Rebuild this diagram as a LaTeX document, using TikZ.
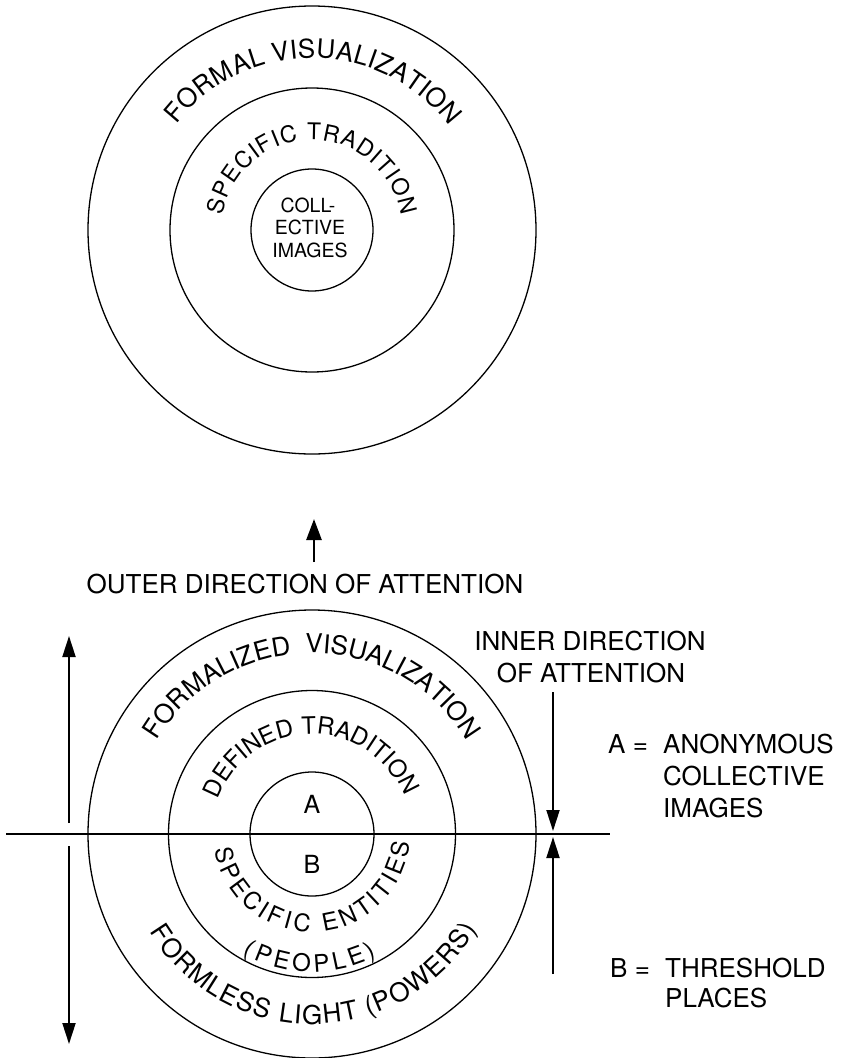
\documentclass[tikz,border=0pt]{standalone}
\usepackage{fontspec}
\setmainfont{TeX Gyre Heros}
\usetikzlibrary{arrows.meta,calc}
\tikzset{
  ring/.style={draw, circle, line width=1.3pt, inner sep=0pt, minimum size=#1},
  lbl/.style={font=\fontsize{26}{30}\selectfont, inner sep=0pt, anchor=base},
  small/.style={font=\fontsize{19.5}{22}\selectfont},
  arr/.style={-{Triangle[length=21pt,width=13pt]}, line width=2pt},
  hline/.style={line width=1.3pt},
  archar/.style={inner sep=0pt, anchor=base},
}
% #1 centre, #2 radius, #3 start angle, #4 end angle, #5 font size,
% #6 direction (-1 clockwise, letters outward; 1 anticlockwise, letters inward),
% #7 characters with widths (per 1000 em), #8 name prefix
\newcommand\arcchars[8]{%
  \gdef\ACtot{0}\gdef\ACn{0}%
  \foreach \c/\w in {#7}{%
    \pgfmathsetmacro\ACt{\ACtot+\w/1000*#5}\global\let\ACtot\ACt
    \xdef\ACn{\the\numexpr\ACn+1\relax}%
  }%
  \pgfmathsetmacro\ACL{(#2/180)*abs(#4-(#3))*pi}%
  \pgfmathsetmacro\ACg{(\ACL-\ACtot)/max(\ACn-1,1)}%
  \global\let\ACgap\ACg
  \gdef\ACs{0}%
  \foreach \c/\w [count=\k] in {#7}{%
    \pgfmathsetmacro\ACw{\w/1000*#5}%
    \pgfmathsetmacro\ACnext{\ACs+\ACw+\ACgap}%
    \pgfmathsetmacro\ACth{#3+(#6)*((\ACs+0.5*\ACw)/#2)*(180/pi)}%
    \global\let\ACs\ACnext
    \node[archar, rotate={\ACth+(#6)*90}, font=\fontsize{#5}{#5}\selectfont]
      (#8\k) at ($(#1)+(\ACth:#2pt)$) {\c};
  }%
}
\begin{document}
\begin{tikzpicture}[x=1pt,y=1pt]
\useasboundingbox (0,0) rectangle (844,-1058);
% top diagram
\coordinate (TC) at (312,-230);
\node[ring=448pt] (T1) at (TC) {};
\node[ring=284pt] (T2) at (TC) {};
\node[ring=122pt] (T3) at (TC) {};
\arcchars{TC}{172}{142}{37}{26}{-1}{F/611,O/778,R/722,M/833,A/667,L/556,~/278,V/667,I/278,S/667,U/722,A/667,L/556,I/278,Z/611,A/667,T/611,I/278,O/778,N/722}{tfv}
\arcchars{TC}{90}{171}{9}{23}{-1}{S/667,P/667,E/667,C/722,I/278,F/611,I/278,C/722,~/278,T/611,R/722,A/667,D/722,I/278,T/611,I/278,O/778,N/722}{tst}
\node[lbl, small] (ci1) at (308,-212) {COLL-};
\node[lbl, small] (ci2) at (310,-234.5) {ECTIVE};
\node[lbl, small] (ci3) at (310,-257) {IMAGES};
% outer direction arrow
\coordinate (oa1) at (314,-562);
\coordinate (oa2) at (314,-519);
\draw[arr, line width=2.6pt, -{Triangle[length=21pt,width=15pt]}] (oa1) -- (oa2);
\node[lbl] (outer) at (305,-593) {OUTER DIRECTION OF ATTENTION};
% bottom diagram
\coordinate (BC) at (312,-834);
\node[ring=448pt] (B1) at (BC) {};
\node[ring=287pt] (B2) at (BC) {};
\node[ring=124pt] (B3) at (BC) {};
\coordinate (hl) at (6,-834);
\coordinate (hr) at (610,-834);
\draw[hline] (hl) -- (hr);
\arcchars{BC}{181}{149}{31}{26}{-1}{F/611,O/778,R/722,M/833,A/667,L/556,I/278,Z/611,E/667,D/722,~/278,~/278,V/667,I/278,S/667,U/722,A/667,L/556,I/278,Z/611,A/667,T/611,I/278,O/778,N/722}{bfv}
\arcchars{BC}{100}{160}{22}{24}{-1}{D/722,E/667,F/611,I/278,N/722,E/667,D/722,~/278,T/611,R/722,A/667,D/722,I/278,T/611,I/278,O/778,N/722}{bdt}
\arcchars{BC}{98}{189}{355}{24}{1}{S/667,P/667,E/667,C/722,I/278,F/611,I/278,C/722,~/278,E/667,N/722,T/611,I/278,T/611,I/278,E/667,S/667}{bse}
\arcchars{BC}{138}{240}{298}{24}{1}{{(}/333,P/667,E/667,O/778,P/667,L/556,E/667,{)}/333}{bpp}
\arcchars{BC}{190}{211}{330}{26}{1}{F/611,O/778,R/722,M/833,L/556,E/667,S/667,S/667,~/278,L/556,I/278,G/778,H/722,T/611,~/278,{(}/333,P/667,O/778,W/944,E/667,R/722,S/667,{)}/333}{bfl}
\node[lbl, font=\fontsize{25}{30}\selectfont] (la) at (312,-813) {A};
\node[lbl, font=\fontsize{25}{30}\selectfont] (lb) at (312,-873) {B};
% left arrows
\coordinate (lu0) at (69,-823);
\coordinate (lu1) at (69,-636);
\coordinate (ld0) at (69,-846);
\coordinate (ld1) at (69,-1044);
\draw[arr] (lu0) -- (lu1);
\draw[arr] (ld0) -- (ld1);
% right arrows
\coordinate (ru0) at (553,-692);
\coordinate (ru1) at (553,-831);
\coordinate (rd0) at (553,-974);
\coordinate (rd1) at (553,-837);
\draw[arr] (ru0) -- (ru1);
\draw[arr] (rd0) -- (rd1);
\node[lbl] (in1) at (590,-650) {INNER DIRECTION};
\node[lbl] (in2) at (591,-682) {OF ATTENTION};
% legend
\node[lbl, anchor=base west] (aeq) at (608,-753) {A =};
\node[lbl, anchor=base west] (a1) at (663,-753) {ANONYMOUS};
\node[lbl, anchor=base west] (a2) at (663,-785) {COLLECTIVE};
\node[lbl, anchor=base west] (a3) at (663,-817) {IMAGES};
\node[lbl, anchor=base west] (beq) at (610,-977) {B =};
\node[lbl, anchor=base west] (b1) at (665,-977) {THRESHOLD};
\node[lbl, anchor=base west] (b2) at (665,-1007) {PLACES};
\end{tikzpicture}
\end{document}
